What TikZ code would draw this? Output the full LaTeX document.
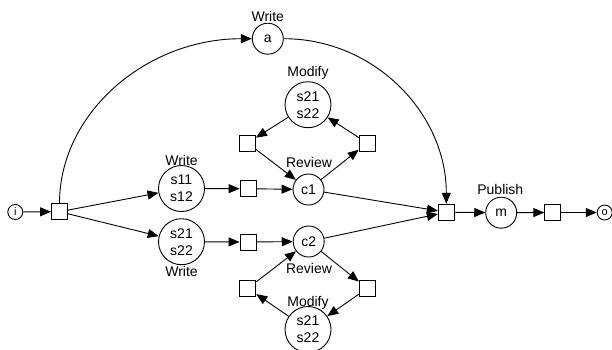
\documentclass[tikz,border=0pt]{standalone}
\usepackage{fontspec}
\setmainfont{Liberation Sans}
\usetikzlibrary{arrows.meta}
\begin{document}
\begin{tikzpicture}[x=1pt,y=-1pt,line width=0.9pt,
  >={Triangle[length=11pt,width=9pt]},
  txt/.style={font=\fontsize{14}{17}\selectfont},
  bigplace/.style={circle,draw,inner sep=0pt,minimum size=46pt,align=center,txt},
  smallplace/.style={circle,draw,inner sep=0pt,minimum size=31pt,txt},
  endplace/.style={circle,draw,inner sep=0pt,minimum size=15pt,font=\fontsize{11}{12}\selectfont},
  trans/.style={rectangle,draw,minimum size=16pt,inner sep=0pt},
  lbl/.style={txt,inner sep=0pt,text height=10pt,text depth=0pt}]
\useasboundingbox (0,0) rectangle (612,349);
% nodes
\node[endplace] (i) at (15.3,212) {i};
\node[trans] (t0) at (59.5,211.7) {};
\node[bigplace] (w1) at (181.5,188.5) {s11\\s12};
\node[bigplace] (w2) at (181.5,241.7) {s21\\s22};
\node[trans] (q1) at (248,188.7) {};
\node[trans] (q2) at (248,242) {};
\node[smallplace] (c1) at (308.5,189.5) {c1};
\node[smallplace] (c2) at (308.7,241.5) {c2};
\node[smallplace] (a) at (267.8,38.7) {a};
\node[bigplace] (mod1) at (308,104.7) {s21\\s22};
\node[trans] (ql1) at (247.5,143) {};
\node[trans] (qr1) at (367.2,143) {};
\node[trans] (ql2) at (247.8,288.3) {};
\node[trans] (qr2) at (367.3,288.3) {};
\node[bigplace] (mod2) at (308,329.5) {s21\\s22};
\node[trans] (merge) at (446.3,212.2) {};
\node[smallplace] (m) at (501.2,212.7) {m};
\node[trans] (tf) at (552.8,212.5) {};
\node[endplace] (o) at (604.7,212.5) {o};
% labels
\node[lbl] (lwa) at (267.8,16) {Write};
\node[lbl] (lmod1) at (308,71.7) {Modify};
\node[lbl] (lw1) at (181.5,160) {Write};
\node[lbl] (lw2) at (181.5,271.7) {Write};
\node[lbl] (lrev1) at (309,162.7) {Review};
\node[lbl] (lrev2) at (309,268) {Review};
\node[lbl] (lmod2) at (308,301) {Modify};
\node[lbl] (lpub) at (500.3,189.3) {Publish};
% connectors
\draw[->] (i) -- (t0);
\draw[->] (t0) -- (w1);
\draw[->] (t0) -- (w2);
\draw[->] (t0.north) .. controls +(0,-90) and +(-106,0) .. (a.west);
\draw[->] (w1) -- (q1);
\draw[->] (q1) -- (c1);
\draw[->] (w2) -- (q2);
\draw[->] (q2) -- (c2);
\draw[->] (mod1) -- (ql1);
\draw[->] (ql1) -- (c1);
\draw[->] (c1) -- (qr1);
\draw[->] (qr1) -- (mod1);
\draw[->] (c2) -- (qr2);
\draw[->] (qr2) -- (mod2);
\draw[->] (mod2) -- (ql2);
\draw[->] (ql2) -- (c2);
\draw[->] (a.east) .. controls +(90,0) and +(0,-91) .. (merge.north);
\draw[->] (c1) -- (merge);
\draw[->] (c2) -- (merge);
\draw[->] (merge) -- (m);
\draw[->] (m) -- (tf);
\draw[->] (tf) -- (o);
\end{tikzpicture}
\end{document}
